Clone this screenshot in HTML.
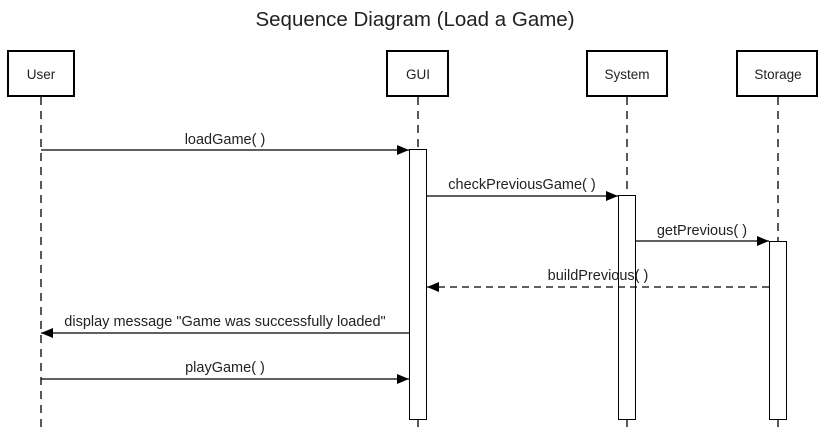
<!DOCTYPE html>
<html><head><style>body{margin:0;background:#fff}svg{display:block}text{font-family:"Liberation Sans",sans-serif;fill:#222}</style></head>
<body>
<svg width="829" height="435" viewBox="0 0 829 435" xmlns="http://www.w3.org/2000/svg">
<defs><marker id="a" markerWidth="12" markerHeight="10" refX="12" refY="5" orient="auto" markerUnits="userSpaceOnUse"><path d="M0,0 L12,5 L0,10 z" fill="#000"/></marker></defs>
<text x="415" y="26" font-size="20.5" text-anchor="middle">Sequence Diagram (Load a Game)</text>
<g stroke="#000" stroke-width="1.3" stroke-dasharray="8,6" fill="none">
<line x1="41" y1="97" x2="41" y2="432"/>
<line x1="418" y1="97" x2="418" y2="432"/>
<line x1="627" y1="97" x2="627" y2="432"/>
<line x1="778" y1="97" x2="778" y2="432"/>
</g>
<g stroke="#000" stroke-width="2" fill="#fff">
<rect x="8" y="51" width="66" height="45"/>
<rect x="387" y="51" width="61" height="45"/>
<rect x="587" y="51" width="80" height="45"/>
<rect x="737" y="51" width="80" height="45"/>
</g>
<g font-size="13.5" text-anchor="middle">
<text x="41" y="79">User</text><text x="418" y="79">GUI</text><text x="627" y="79">System</text><text x="778" y="79">Storage</text>
</g>
<g stroke="#000" stroke-width="1" fill="#fff">
<rect x="409.5" y="149.5" width="17" height="270"/>
<rect x="618.5" y="195.5" width="17" height="224"/>
<rect x="769.5" y="241.5" width="17" height="178"/>
</g>
<g stroke="#000" stroke-width="1.2" fill="none">
<line x1="41" y1="150" x2="409" y2="150" marker-end="url(#a)"/>
<line x1="427" y1="196" x2="618" y2="196" marker-end="url(#a)"/>
<line x1="636" y1="241" x2="769" y2="241" marker-end="url(#a)"/>
<line x1="769" y1="287" x2="427" y2="287" stroke-dasharray="7,5" marker-end="url(#a)"/>
<line x1="409" y1="333" x2="41" y2="333" marker-end="url(#a)"/>
<line x1="41" y1="379" x2="409" y2="379" marker-end="url(#a)"/>
</g>
<g font-size="14.5" text-anchor="middle">
<text x="225" y="144">loadGame( )</text>
<text x="522" y="189">checkPreviousGame( )</text>
<text x="702" y="235">getPrevious( )</text>
<text x="598" y="280">buildPrevious( )</text>
<text x="225" y="326">display message "Game was successfully loaded"</text>
<text x="225" y="372">playGame( )</text>
</g>
</svg>
</body></html>
